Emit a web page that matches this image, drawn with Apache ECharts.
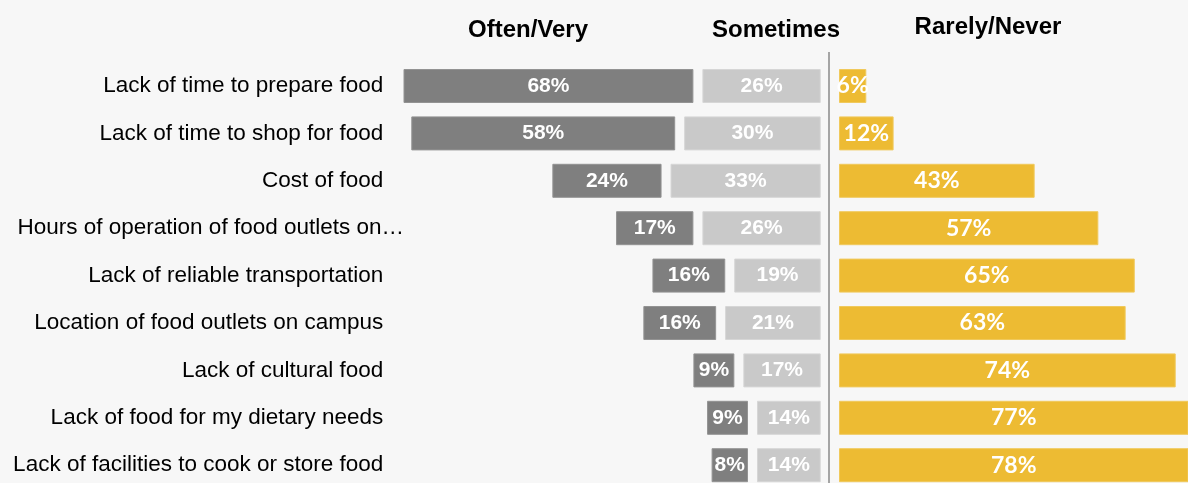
<!DOCTYPE html>
<html>
<head>
<meta charset="utf-8">
<script src="https://cdn.jsdelivr.net/npm/echarts@6/dist/echarts.min.js"></script>
<style>
html,body{margin:0;padding:0;background:#f7f7f7;overflow:hidden;}
#c{width:1188px;height:520px;}
</style>
</head>
<body>
<div id="c"></div>
<script>
const categories = [
  "Lack of time to prepare food",
  "Lack of time to shop for food",
  "Cost of food",
  "Hours of operation of food outlets on…",
  "Lack of reliable transportation",
  "Location of food outlets on campus",
  "Lack of cultural food",
  "Lack of food for my dietary needs",
  "Lack of facilities to cook or store food"
];
const oftenVery = [68, 58, 24, 17, 16, 16, 9, 9, 8];
const sometimes = [26, 30, 33, 26, 19, 21, 17, 14, 14];
const rarelyNever = [6, 12, 43, 57, 65, 63, 74, 77, 78];
const headers = ["Often/Very", "Sometimes", "Rarely/Never"];

const PX_PER_UNIT = 4.55;
const GAP = 9 / PX_PER_UNIT;
const gridTop = 62.3, gridH = 426.6;
const leftX = 404, leftW = 416.7, rightX = 839, rightW = 349;

const chart = echarts.init(document.getElementById('c'), null, {renderer: 'canvas'});
const pct = p => p.value + '%';
const grayLabel = {show: true, position: 'inside', color: '#fff', fontFamily: 'Liberation Sans, Arial', fontWeight: 'bold', fontSize: 21, formatter: pct};
const catFont = {fontSize: 22.5, color: '#000', fontFamily: 'Liberation Sans, Arial'};

chart.setOption({
  backgroundColor: '#f7f7f7',
  animation: false,
  grid: [
    {left: leftX, width: leftW, top: gridTop, height: gridH, outerBoundsMode: 'none', containLabel: false},
    {left: rightX, width: rightW, top: gridTop, height: gridH, outerBoundsMode: 'none', containLabel: false}
  ],
  xAxis: [
    {gridIndex: 0, type: 'value', inverse: true, min: 0, max: leftW / PX_PER_UNIT, show: false},
    {gridIndex: 1, type: 'value', min: 0, max: rightW / PX_PER_UNIT, show: false}
  ],
  yAxis: [
    {gridIndex: 0, type: 'category', data: categories, inverse: true, position: 'left',
     axisLine: {show: false}, axisTick: {show: false}, splitLine: {show: false},
     axisLabel: Object.assign({
       margin: 0,
       formatter: v => v.endsWith('…') ? '{t|' + v + '}' : '{t|' + v + '}{s| }',
       rich: {t: catFont, s: {width: 20.7, fontSize: 22.5}}
     }, catFont)},
    {gridIndex: 1, type: 'category', data: categories, inverse: true, show: false}
  ],
  series: [
    {name: headers[1], type: 'bar', stack: 'L', xAxisIndex: 0, yAxisIndex: 0, data: sometimes,
     barWidth: 34, itemStyle: {color: '#c9c9c9', borderColor: '#d6d6d6', borderWidth: 1}, label: grayLabel},
    {name: 'gap', type: 'bar', stack: 'L', xAxisIndex: 0, yAxisIndex: 0, data: categories.map(() => GAP),
     barWidth: 34, silent: true, itemStyle: {color: 'rgba(0,0,0,0)'}, label: {show: false}},
    {name: headers[0], type: 'bar', stack: 'L', xAxisIndex: 0, yAxisIndex: 0, data: oftenVery,
     barWidth: 34, itemStyle: {color: '#7f7f7f', borderColor: '#939393', borderWidth: 1}, label: grayLabel},
    {name: headers[2], type: 'bar', xAxisIndex: 1, yAxisIndex: 1, data: rarelyNever,
     barWidth: 34, itemStyle: {color: '#edbb33', borderColor: '#f0c95c', borderWidth: 1},
     label: {show: true, position: 'inside', color: '#fff', fontFamily: 'Lato', fontWeight: 'bold', fontSize: 23, formatter: pct}}
  ],
  graphic: [
    {type: 'line', shape: {x1: 829, y1: 52, x2: 829, y2: 520}, style: {stroke: '#8a8a8a', lineWidth: 1.5}},
    {type: 'text', x: 528, y: 30, style: {text: headers[0], textAlign: 'center', textVerticalAlign: 'middle', font: 'bold 24px "Liberation Sans", Arial', fill: '#000'}},
    {type: 'text', x: 776, y: 30, style: {text: headers[1], textAlign: 'center', textVerticalAlign: 'middle', font: 'bold 24px "Liberation Sans", Arial', fill: '#000'}},
    {type: 'text', x: 988, y: 27, style: {text: headers[2], textAlign: 'center', textVerticalAlign: 'middle', font: 'bold 24px "Liberation Sans", Arial', fill: '#000'}}
  ]
});
</script>
</body>
</html>
